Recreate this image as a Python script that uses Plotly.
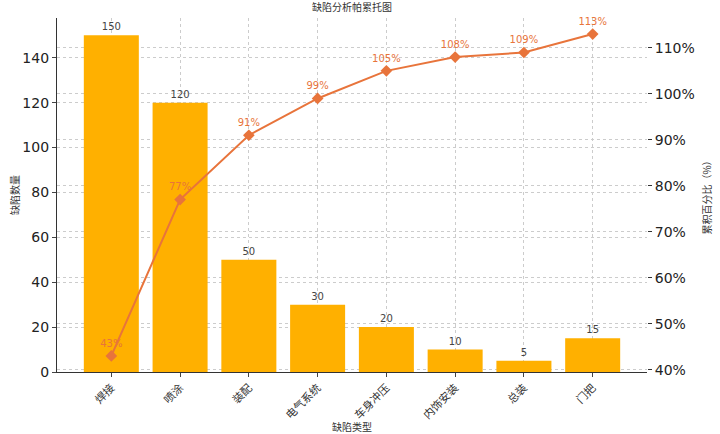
import plotly.graph_objects as go

categories = ["焊接", "喷涂", "装配", "电气系统", "车身冲压", "内饰安装", "总装", "门把"]
counts = [150, 120, 50, 30, 20, 10, 5, 15]
cum_pct = [43, 77, 91, 99, 105, 108, 109, 113]

cjk = "Noto Sans CJK SC, DejaVu Sans, sans-serif"
num = "DejaVu Sans, sans-serif"
xidx = list(range(len(categories)))

fig = go.Figure()
fig.add_trace(go.Bar(
    x=xidx, y=counts, width=0.8, marker=dict(color="#FFB000", line=dict(width=0)),
    text=[str(v) for v in counts], textposition="outside",
    textfont=dict(size=10, color="#444444", family=num), cliponaxis=False, yaxis="y", showlegend=False))
fig.add_trace(go.Scatter(
    x=xidx, y=cum_pct, mode="lines+markers+text", yaxis="y2",
    line=dict(color="#E8743B", width=2), marker=dict(symbol="diamond", size=9, color="#E8743B"),
    text=[f"{v}%" for v in cum_pct], textposition="top center",
    textfont=dict(size=10, color="#E8743B", family=num), cliponaxis=False, showlegend=False))

fig.update_layout(
    width=720, height=434, margin=dict(l=57, r=73, t=18, b=62),
    plot_bgcolor="white", paper_bgcolor="white",
    font=dict(family=cjk, color="#222222"),
    title=dict(text="缺陷分析帕累托图", x=0.5, xref="paper", y=0.99, yanchor="top",
               font=dict(size=10, color="#333333")),
    xaxis=dict(range=[-0.79, 7.79], tickvals=xidx, ticktext=categories, tickangle=-45,
               tickfont=dict(size=11, color="#333333"), showgrid=True, gridcolor="#cccccc",
               griddash="dot", showline=True, linecolor="#333333", linewidth=1.2,
               ticks="outside", ticklen=4, zeroline=False, automargin=False,
               title=dict(text="缺陷类型", font=dict(size=10, color="#333333"), standoff=2)),
    yaxis=dict(range=[0, 157.7], dtick=20, tickfont=dict(size=14, color="#222222", family=num),
               showgrid=True, gridcolor="#cccccc", griddash="dot", showline=True,
               linecolor="#333333", linewidth=1.2, ticks="outside", ticklen=4, zeroline=False,
               automargin=False,
               title=dict(text="缺陷数量", font=dict(size=10, color="#333333"), standoff=0)),
    yaxis2=dict(range=[39.5, 116.5], dtick=10, overlaying="y", side="right",
                ticksuffix="%", tickfont=dict(size=14, color="#222222", family=num),
                showgrid=True, gridcolor="#cccccc", griddash="dot", showline=False,
                tickcolor="#333333", ticks="outside", ticklen=4, zeroline=False,
                automargin=False,
                title=dict(text="累积百分比（%）", font=dict(size=10, color="#333333"), standoff=10)),
)
fig.write_html("out.html", post_script="document.body.style.margin='0';",
               config={"displayModeBar": False})
